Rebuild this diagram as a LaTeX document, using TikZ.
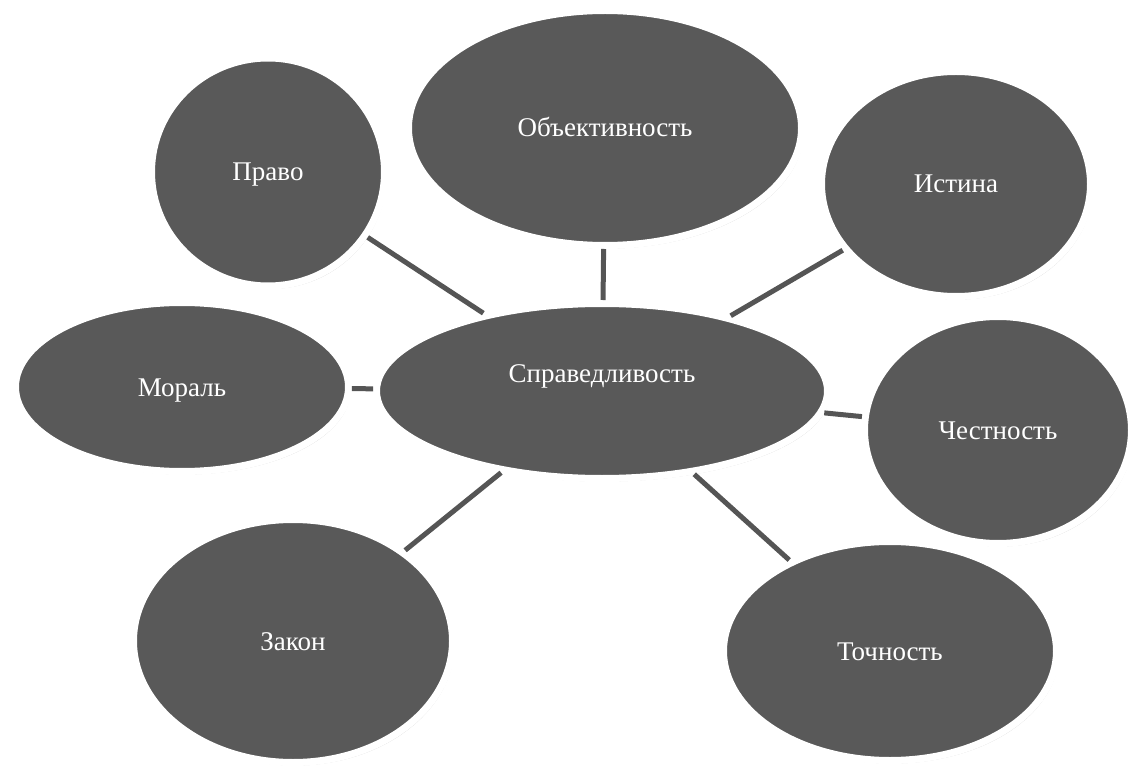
\documentclass[tikz,border=0pt]{standalone}
\usepackage{fontspec}
\setmainfont{Liberation Serif}
\usetikzlibrary{shapes.geometric,shadows}
\definecolor{bubble}{RGB}{89,89,89}
\definecolor{linkc}{RGB}{85,85,85}
\begin{document}
\begin{tikzpicture}[x=1pt,y=-1pt,
  bubble/.style={ellipse,fill=bubble,draw=white,line width=7pt,inner sep=0pt,
    text=white,font=\fontsize{27}{32}\selectfont,text height=18pt,text depth=0pt,
    drop shadow={shadow xshift=2pt,shadow yshift=-3pt,fill=black!30,opacity=0.6}},
  link/.style={draw=linkc,line width=5pt}]
\useasboundingbox (0,0) rectangle (1138,767);
\node[bubble,minimum width=451pt,minimum height=175pt,text height=0pt,text depth=18pt] (c) at (602,391) {Справедливость};
\node[bubble,minimum width=233pt,minimum height=228pt] (pravo) at (268,172) {Право};
\node[bubble,minimum width=393pt,minimum height=235pt] (obj) at (605,128) {Объективность};
\node[bubble,minimum width=269pt,minimum height=225pt] (ist) at (956,184) {Истина};
\node[bubble,minimum width=333pt,minimum height=169pt] (mor) at (182,387) {Мораль};
\node[bubble,minimum width=267pt,minimum height=227pt] (chest) at (998,430) {Честность};
\node[bubble,minimum width=319pt,minimum height=243pt] (zak) at (293,641) {Закон};
\node[bubble,minimum width=333pt,minimum height=219pt] (toch) at (890,651) {Точность};
\draw[link] (pravo) -- (c);
\draw[link] (obj) -- (c);
\draw[link] (ist) -- (c);
\draw[link] (mor) -- (c);
\draw[link] (chest) -- (c);
\draw[link] (zak) -- (c);
\draw[link] (toch) -- (c);
\end{tikzpicture}
\end{document}
